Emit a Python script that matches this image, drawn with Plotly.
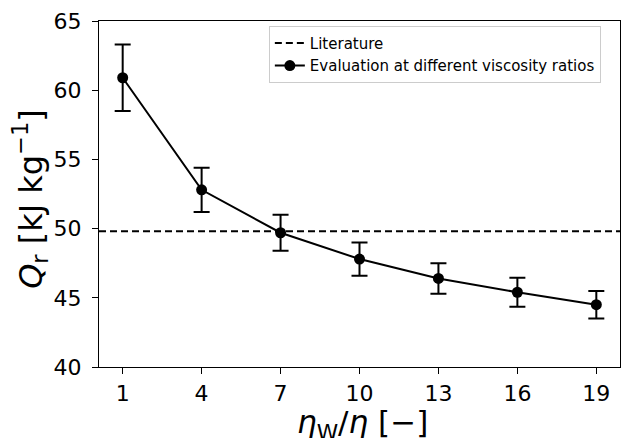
import plotly.graph_objects as go

ratios = [1, 4, 7, 10, 13, 16, 19]
q_r = [60.9, 52.8, 49.7, 47.8, 46.4, 45.4, 44.5]
q_err = [2.4, 1.6, 1.3, 1.2, 1.1, 1.05, 1.0]
literature = 49.8
x_range = [0.1, 19.9]
y_ticks = [40, 45, 50, 55, 60, 65]
x_title = "<i>η</i><sub>W</sub>/<i>η</i> [−]"
y_title = "<i>Q</i><sub>r</sub> [kJ kg<sup>−1</sup>]"

fig = go.Figure()
fig.add_trace(go.Scatter(
    x=x_range, y=[literature, literature], mode="lines",
    line=dict(color="black", width=2, dash="7px,4px"),
    name="Literature"))
fig.add_trace(go.Scatter(
    x=ratios, y=q_r, mode="lines+markers",
    line=dict(color="black", width=2),
    marker=dict(color="black", size=11),
    error_y=dict(type="data", array=q_err, visible=True, color="black",
                 thickness=2, width=8),
    name="Evaluation at different viscosity ratios"))

font = "DejaVu Sans, sans-serif"
axis_common = dict(ticks="outside", ticklen=6, tickwidth=1, tickcolor="black",
                   showline=True, linecolor="black", linewidth=1, mirror=True,
                   showgrid=False, zeroline=False, automargin=False,
                   tickfont=dict(size=22))
fig.update_layout(
    width=621, height=438,
    margin=dict(l=99, r=1, t=21, b=71),
    paper_bgcolor="white", plot_bgcolor="white",
    font=dict(family=font, color="black"),
    showlegend=True,
    legend=dict(x=0.326, y=0.986, xanchor="left", yanchor="top",
                bgcolor="white", bordercolor="#cccccc", borderwidth=1,
                font=dict(size=15, family=font), tracegroupgap=0,
                itemwidth=30),
    xaxis=dict(range=x_range, tickvals=ratios, ticklabelstandoff=1,
               **axis_common),
    yaxis=dict(range=[40, 65], tickvals=y_ticks, ticklabelstandoff=6,
               **axis_common),
    annotations=[
        dict(text=x_title, xref="paper", yref="paper", x=0.505, y=-0.101,
             xanchor="center", yanchor="top", showarrow=False,
             font=dict(size=31)),
        dict(text=y_title, xref="paper", yref="paper", x=-0.1324, y=0.486,
             xanchor="center", yanchor="middle", showarrow=False,
             textangle=-90, font=dict(size=32)),
    ],
)
fig.write_html("out.html", config={"displayModeBar": False},
               post_script="document.body.style.margin='0';")
